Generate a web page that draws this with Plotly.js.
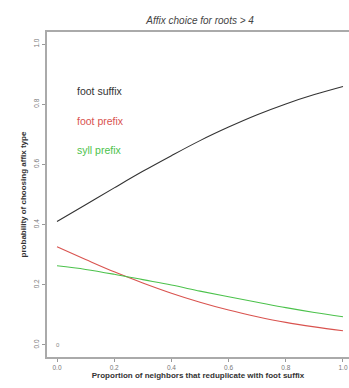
<!DOCTYPE html>
<html>
<head>
<meta charset="utf-8">
<script src="https://cdn.plot.ly/plotly-3.0.1.min.js"></script>
<style>html,body{margin:0;padding:0;background:#fff;}#chart{width:349px;height:388px;}</style>
</head>
<body>
<div id="chart"></div>
<script>
const proportion = [0, 0.1, 0.2, 0.3, 0.4, 0.5, 0.6, 0.7, 0.8, 0.9, 1.0];
const footSuffix = [0.410, 0.466, 0.522, 0.577, 0.629, 0.679, 0.724, 0.765, 0.801, 0.832, 0.859];
const footPrefix = [0.326, 0.284, 0.243, 0.206, 0.172, 0.142, 0.116, 0.094, 0.075, 0.060, 0.047];
const syllPrefix = [0.263, 0.251, 0.235, 0.217, 0.199, 0.179, 0.160, 0.142, 0.124, 0.108, 0.094];
const seriesNames = ["foot suffix", "foot prefix", "syll prefix"];
const seriesColors = ["#333333", "#d9534f", "#4cc24c"];
const xTicks = [0, 0.2, 0.4, 0.6, 0.8, 1.0];
const xTickLabels = ["0.0", "0.2", "0.4", "0.6", "0.8", "1.0"];
const yTicks = [0, 0.2, 0.4, 0.6, 0.8, 1.0];
const yTickLabels = ["0.0", "0.2", "0.4", "0.6", "0.8", "1.0"];
const legendY = [0.844, 0.744, 0.648];

const allSeries = [footSuffix, footPrefix, syllPrefix];
const traces = allSeries.map((ys, i) => ({
  x: proportion, y: ys, type: "scatter", mode: "lines", name: seriesNames[i],
  line: {color: seriesColors[i], width: 1.1, shape: "spline"}, hoverinfo: "skip"
}));

const font = "Liberation Sans, Arial, sans-serif";
const annotations = seriesNames.map((n, i) => ({
  x: 0.062, y: legendY[i], xref: "x", yref: "y", text: n, showarrow: false,
  xanchor: "left", yanchor: "middle", font: {family: font, size: 10.5, color: seriesColors[i]}
}));
annotations.push({x: 0.004, y: 0.0, xref: "x", yref: "y", text: "0", showarrow: false,
  xanchor: "center", yanchor: "middle", font: {family: font, size: 6, color: "#888"}});

const layout = {
  width: 349, height: 388,
  margin: {l: 47, r: 0, t: 32, b: 31},
  paper_bgcolor: "#fff", plot_bgcolor: "#fff",
  showlegend: false,
  title: {text: "<i>Affix choice for roots > 4</i>", x: 0.507, xref: "paper", xanchor: "center",
    y: 0.948, yanchor: "middle",
    font: {family: font, size: 10, color: "#444"}},
  xaxis: {
    range: [-0.035, 1.021], tickvals: xTicks, ticktext: xTickLabels,
    showgrid: false, zeroline: false, showline: true, mirror: true,
    linecolor: "#aaa", linewidth: 2, ticks: "outside", ticklen: 3, tickcolor: "#999",
    tickfont: {family: font, size: 6.5, color: "#777"},
    title: {text: "<b>Proportion of neighbors that reduplicate with foot suffix</b>", standoff: 3,
      font: {family: font, size: 8, color: "#333333"}}
  },
  yaxis: {
    range: [-0.04, 1.04], tickvals: yTicks, ticktext: yTickLabels,
    showgrid: false, zeroline: false, showline: true, mirror: true,
    linecolor: "#aaa", linewidth: 2, ticks: "outside", ticklen: 3, tickcolor: "#999",
    tickangle: -90, tickfont: {family: font, size: 6.5, color: "#777"},
    title: {text: "<b>probability of choosing affix type</b>", standoff: 6,
      font: {family: font, size: 8, color: "#333333"}}
  },
  annotations: annotations
};

Plotly.newPlot("chart", traces, layout, {staticPlot: true, displayModeBar: false});
</script>
</body>
</html>
